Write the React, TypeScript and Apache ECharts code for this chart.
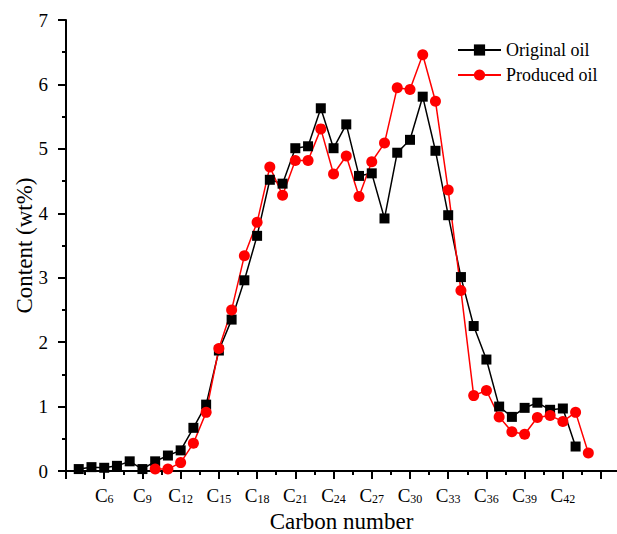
import React, { useEffect, useRef } from "react";
import * as echarts from "echarts";

const originalCarbon = [4, 5, 6, 7, 8, 9, 10, 11, 12, 13, 14, 15, 16, 17, 18, 19, 20, 21, 22, 23, 24, 25, 26, 27, 28, 29, 30, 31, 32, 33, 34, 35, 36, 37, 38, 39, 40, 41, 42, 43];
const originalOil = [0.03, 0.06, 0.05, 0.08, 0.15, 0.03, 0.15, 0.24, 0.32, 0.67, 1.03, 1.87, 2.35, 2.96, 3.65, 4.52, 4.46, 5.01, 5.04, 5.63, 5.01, 5.38, 4.58, 4.62, 3.92, 4.94, 5.14, 5.81, 4.97, 3.97, 3.01, 2.25, 1.73, 1.0, 0.84, 0.98, 1.06, 0.95, 0.97, 0.38];

const producedCarbon = [10, 11, 12, 13, 14, 15, 16, 17, 18, 19, 20, 21, 22, 23, 24, 25, 26, 27, 28, 29, 30, 31, 32, 33, 34, 35, 36, 37, 38, 39, 40, 41, 42, 43, 44];
const producedOil = [0.03, 0.03, 0.13, 0.43, 0.91, 1.9, 2.5, 3.34, 3.86, 4.72, 4.28, 4.82, 4.82, 5.31, 4.61, 4.89, 4.26, 4.8, 5.09, 5.95, 5.92, 6.46, 5.74, 4.36, 2.8, 1.17, 1.25, 0.84, 0.61, 0.57, 0.83, 0.86, 0.77, 0.91, 0.28];

const xLabelValues = [6, 9, 12, 15, 18, 21, 24, 27, 30, 33, 36, 39, 42];
const xMajorTicks = [3, 6, 9, 12, 15, 18, 21, 24, 27, 30, 33, 36, 39, 42, 45];
const xMinorTicks = [4.5, 7.5, 10.5, 13.5, 16.5, 19.5, 22.5, 25.5, 28.5, 31.5, 34.5, 37.5, 40.5, 43.5];

const FONT = "Liberation Serif";

export default function App() {
  const ref = useRef<HTMLDivElement>(null);
  useEffect(() => {
    if (!ref.current) return;
    const chart = echarts.init(ref.current, null, { renderer: "svg" });
    const xBase = {
      type: "value",
      min: 3,
      max: 46.25,
      gridIndex: 0,
      position: "bottom",
      splitLine: { show: false },
    };
    chart.setOption({
      animation: false,
      backgroundColor: "#ffffff",
      textStyle: { fontFamily: FONT },
      grid: { left: 66, right: 0, top: 20, bottom: 63, containLabel: false, outerBoundsMode: "none" },
      legend: {
        orient: "vertical",
        left: 452,
        top: 36,
        itemWidth: 43,
        itemHeight: 14,
        itemGap: 7,
        textStyle: { fontFamily: FONT, fontSize: 18, color: "#000" },
        data: ["Original oil", "Produced oil"],
      },
      xAxis: [
        {
          ...xBase,
          name: "Carbon number",
          nameLocation: "middle",
          nameGap: 39,
          nameTextStyle: { fontFamily: FONT, fontSize: 23, color: "#000" },
          axisLine: { show: true, onZero: false, lineStyle: { color: "#000", width: 2 } },
          axisTick: { show: true, length: 8, customValues: xMajorTicks, lineStyle: { color: "#000", width: 2 } },
          axisLabel: {
            show: true,
            margin: 15,
            customValues: xLabelValues,
            color: "#000",
            fontFamily: FONT,
            formatter: (v: number) => `{c|C}{s|${v}}`,
            rich: {
              c: { fontFamily: FONT, fontSize: 19, lineHeight: 19, verticalAlign: "top", color: "#000" },
              s: { fontFamily: FONT, fontSize: 12, lineHeight: 12, verticalAlign: "bottom", padding: [11, 0, 0, 0], color: "#000" },
            },
          },
        },
        {
          ...xBase,
          axisLine: { show: false },
          axisTick: { show: true, length: 4, customValues: xMinorTicks, lineStyle: { color: "#000", width: 2 } },
          axisLabel: { show: false },
        },
      ],
      yAxis: {
        type: "value",
        min: 0,
        max: 7,
        interval: 1,
        name: "Content (wt%)",
        nameLocation: "middle",
        nameGap: 30,
        nameMoveOverlap: false,
        nameTextStyle: { fontFamily: FONT, fontSize: 23, color: "#000" },
        axisLine: { show: true, lineStyle: { color: "#000", width: 2 } },
        axisTick: { show: true, length: 8, lineStyle: { color: "#000", width: 2 } },
        minorTick: { show: true, splitNumber: 2, length: 4, lineStyle: { color: "#000", width: 2 } },
        axisLabel: { margin: 18, fontFamily: FONT, fontSize: 19, color: "#000" },
        splitLine: { show: false },
      },
      series: [
        {
          name: "Original oil",
          type: "line",
          xAxisIndex: 0,
          data: originalCarbon.map((c, i) => [c, originalOil[i]]),
          symbol: "rect",
          symbolSize: 10,
          itemStyle: { color: "#000" },
          lineStyle: { color: "#000", width: 1.5 },
        },
        {
          name: "Produced oil",
          type: "line",
          xAxisIndex: 0,
          data: producedCarbon.map((c, i) => [c, producedOil[i]]),
          symbol: "circle",
          symbolSize: 11,
          itemStyle: { color: "#ff0000" },
          lineStyle: { color: "#ff0000", width: 1.5 },
        },
      ],
    });
    return () => chart.dispose();
  }, []);
  return <div ref={ref} style={{ width: 617, height: 534, position: "absolute", left: 0, top: 0 }} />;
}
